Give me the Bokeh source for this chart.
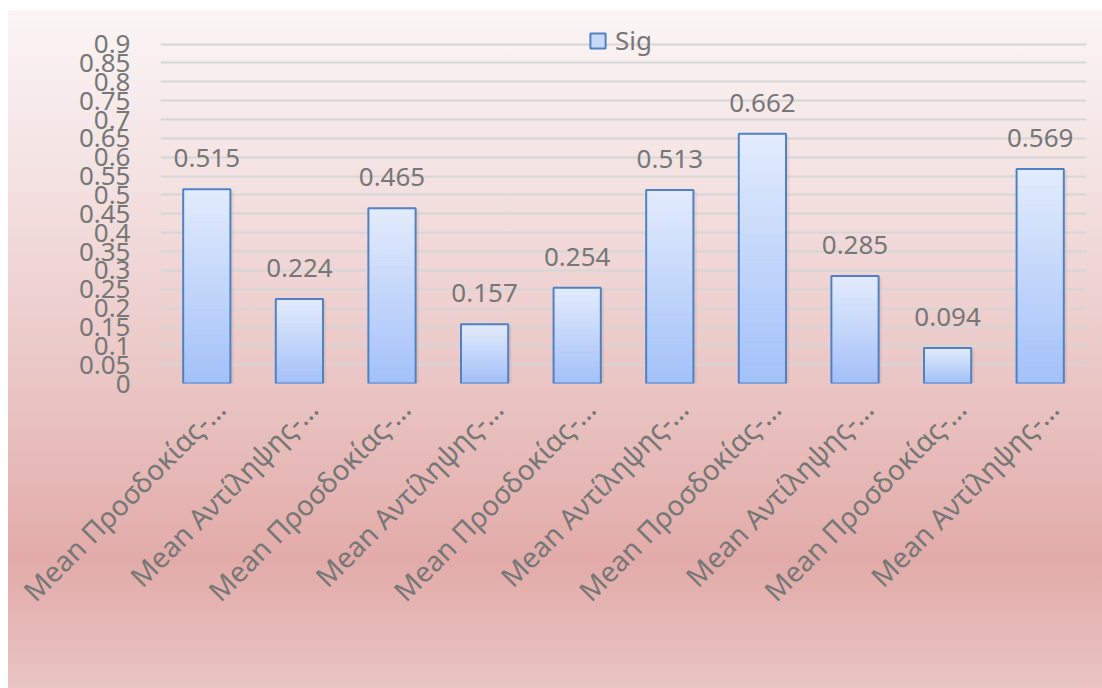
import numpy as np
from math import pi
from bokeh.plotting import figure
from bokeh.models import (ColumnDataSource, FixedTicker, Range1d, Legend,
                          LegendItem, LabelSet, LinearAxis)
from bokeh.core.properties import value
from bokeh.embed import file_html
from bokeh.resources import INLINE

# ---- data -------------------------------------------------------------
categories = [
    "Mean Προσδοκίας-…", "Mean Αντίληψης-…",
    "Mean Προσδοκίας-…", "Mean Αντίληψης-…",
    "Mean Προσδοκίας-…", "Mean Αντίληψης-…",
    "Mean Προσδοκίας-…", "Mean Αντίληψης-…",
    "Mean Προσδοκίας-…", "Mean Αντίληψης-…",
]
sig_values = [0.515, 0.224, 0.465, 0.157, 0.254, 0.513, 0.662, 0.285, 0.094, 0.569]
series_name = "Sig"
y_ticks = [0, 0.05, 0.1, 0.15, 0.2, 0.25, 0.3, 0.35, 0.4, 0.45,
           0.5, 0.55, 0.6, 0.65, 0.7, 0.75, 0.8, 0.85, 0.9]
y_tick_labels = ["0", "0.05", "0.1", "0.15", "0.2", "0.25", "0.3", "0.35", "0.4", "0.45",
                 "0.5", "0.55", "0.6", "0.65", "0.7", "0.75", "0.8", "0.85", "0.9"]

# ---- styling ----------------------------------------------------------
FONT = "Noto Sans"
TEXT = "#777777"
BAR_TOP = np.array([0xe3, 0xec, 0xfd], dtype=float)
BAR_BOTTOM = np.array([0xa2, 0xc1, 0xfa], dtype=float)
BAR_LINE = "#4f81c4"
BAR_WIDTH = 0.51
N_BANDS = 60
LABEL_SHIFT = 0.14   # category labels sit a little right of the bar centres

n = len(categories)
centers = [i + 0.5 for i in range(n)]

p = figure(width=1102, height=688,
           x_range=Range1d(0, n), y_range=Range1d(0, 0.96),
           x_axis_location=None,
           output_backend="svg", toolbar_location=None,
           min_border_left=160, min_border_right=16,
           min_border_top=21, min_border_bottom=305)

p.background_fill_color = None
p.border_fill_color = None
p.outline_line_color = None
p.styles = {
    "background": (
        "linear-gradient(to right, #ffffff 0px, #ffffff 8px, rgba(255,255,255,0) 8px),"
        "linear-gradient(to bottom, #ffffff 0px, #ffffff 10px, #fbf5f5 10px, "
        "#f3dfdf 200px, #eac6c5 380px, #e2aba9 560px, #e9c4c3 688px)"
    )
}

# ---- grid: horizontal lines only ---------------------------------------
for g in p.grid:
    if g.dimension == 0:
        g.visible = False
p.ygrid.grid_line_color = "#d6d6d6"
p.ygrid.grid_line_width = 2
p.yaxis.ticker = FixedTicker(ticks=y_ticks)

# ---- y axis -----------------------------------------------------------
yax = p.yaxis[0]
yax.major_label_overrides = dict(zip(y_ticks, y_tick_labels))
yax.axis_line_color = None
yax.major_tick_line_color = None
yax.minor_tick_line_color = None
yax.major_tick_out = 0
yax.major_tick_in = 0
yax.major_label_standoff = 30
yax.major_label_text_font = FONT
yax.major_label_text_font_size = "26px"
yax.major_label_text_color = TEXT

# ---- x axis (category names, rotated) ---------------------------------
p.extra_x_ranges = {"names": Range1d(-LABEL_SHIFT, n - LABEL_SHIFT)}
xax = LinearAxis(x_range_name="names", ticker=FixedTicker(ticks=centers),
                 major_label_overrides=dict(zip(centers, categories)),
                 major_label_orientation=pi / 4,
                 axis_line_color=None, major_tick_line_color=None,
                 minor_tick_line_color=None, major_tick_out=0, major_tick_in=0,
                 major_label_standoff=20, major_label_text_font=FONT,
                 major_label_text_font_size="28px", major_label_text_color=TEXT)
p.add_layout(xax, "below")

# ---- legend key (zero-size quad hidden under the first bar) ------------
key = p.quad(left=[centers[0]], right=[centers[0]], top=[0], bottom=[0],
             fill_color="#c8dafb", line_color=BAR_LINE, line_width=2)

# ---- bars: soft shadow, vertical gradient bands, outline ---------------
p.quad(left=[c - BAR_WIDTH / 2 + 0.02 for c in centers],
       right=[c + BAR_WIDTH / 2 + 0.035 for c in centers],
       bottom=[0] * n, top=[v - 0.004 for v in sig_values],
       fill_color="#8a6a6a", fill_alpha=0.12, line_color=None)

band_l, band_r, band_b, band_t, band_c = [], [], [], [], []
for c, v in zip(centers, sig_values):
    for k in range(N_BANDS):
        f = (k + 0.5) / N_BANDS
        rgb = BAR_BOTTOM + (BAR_TOP - BAR_BOTTOM) * f
        band_l.append(c - BAR_WIDTH / 2)
        band_r.append(c + BAR_WIDTH / 2)
        band_b.append(v * k / N_BANDS)
        band_t.append(v * (k + 1) / N_BANDS)
        band_c.append("#%02x%02x%02x" % tuple(int(round(x)) for x in rgb))
p.quad(left=band_l, right=band_r, bottom=band_b, top=band_t,
       fill_color=band_c, line_color=band_c, line_width=0.6)

bars = ColumnDataSource(dict(
    left=[c - BAR_WIDTH / 2 for c in centers],
    right=[c + BAR_WIDTH / 2 for c in centers],
    top=sig_values, bottom=[0] * n, x=centers,
    label=["%.3f" % v for v in sig_values],
))
p.quad(left="left", right="right", top="top", bottom="bottom", source=bars,
       fill_color=None, line_color=BAR_LINE, line_width=2)

# ---- value labels -------------------------------------------------------
p.add_layout(LabelSet(x="x", y="top", text="label", source=bars,
                      text_align="center", text_baseline="alphabetic",
                      y_offset=22, text_font=value(FONT),
                      text_font_size=value("26px"), text_color=value(TEXT)))

# ---- legend -----------------------------------------------------------
legend = Legend(items=[LegendItem(label=series_name, renderers=[key])],
                location=(428, 325), padding=0, margin=0,
                glyph_width=19, glyph_height=19, label_standoff=8,
                label_text_font=FONT, label_text_font_size="26px",
                label_text_color=TEXT, background_fill_alpha=0,
                border_line_alpha=0)
p.add_layout(legend)

open("out.html", "w").write(file_html(p, INLINE))
